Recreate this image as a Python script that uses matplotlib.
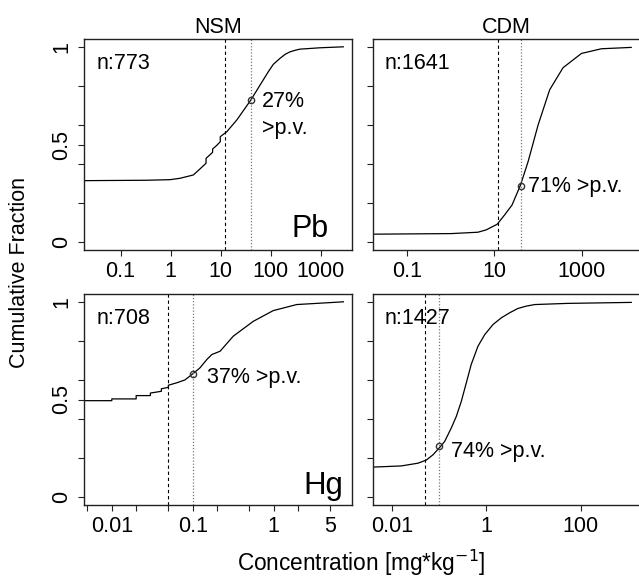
import matplotlib
matplotlib.use('Agg')
import matplotlib.pyplot as plt
from matplotlib.ticker import FixedLocator, NullLocator, FixedFormatter

plt.rcParams['font.family'] = ['Liberation Sans', 'DejaVu Sans']

# ---------------- data ----------------
columns = ["NSM", "CDM"]
elements = ["Pb", "Hg"]
n_samples = {"Pb_NSM": 773, "Pb_CDM": 1641, "Hg_NSM": 708, "Hg_CDM": 1427}

# cumulative curves: concentration [mg/kg] and cumulative fraction
pb_nsm_x = [0.0195, 0.33, 0.98, 1.54, 2.84, 3.86, 5.1, 5.1, 6.9, 6.9, 8.3, 9.8, 9.8,
            13.2, 20.9, 39.8, 61, 89, 112, 151, 192, 240, 304, 380, 955, 2800]
pb_nsm_f = [0.315, 0.317, 0.32, 0.327, 0.344, 0.375, 0.404, 0.429, 0.46, 0.477, 0.495,
            0.514, 0.54, 0.565, 0.625, 0.727, 0.804, 0.872, 0.91, 0.94, 0.961, 0.974,
            0.982, 0.988, 0.995, 1.0]

pb_cdm_x = [0.0167, 1.03, 4.2, 6.5, 11.6, 17.2, 25.3, 39.2, 59, 100, 184, 372, 980, 2800, 13500]
pb_cdm_f = [0.041, 0.044, 0.051, 0.063, 0.092, 0.14, 0.19, 0.29, 0.412, 0.6, 0.78, 0.893,
            0.966, 0.99, 0.997]

hg_nsm_x = [0.0047, 0.01, 0.01, 0.02, 0.02, 0.03, 0.03, 0.041, 0.041, 0.05, 0.05, 0.063,
            0.08, 0.1, 0.123, 0.149, 0.172, 0.218, 0.317, 0.56, 0.99, 1.93, 7.3]
hg_nsm_f = [0.494, 0.494, 0.503, 0.503, 0.52, 0.52, 0.533, 0.542, 0.555, 0.562, 0.573,
            0.585, 0.60, 0.631, 0.662, 0.704, 0.73, 0.747, 0.824, 0.90, 0.955, 0.986, 1.0]

hg_cdm_x = [0.004, 0.0158, 0.0357, 0.0535, 0.0743, 0.103, 0.131, 0.181, 0.232, 0.295,
            0.377, 0.48, 0.667, 0.925, 1.39, 2.08, 3.13, 4.68, 7.05, 10.6, 53.7, 1180]
hg_cdm_f = [0.154, 0.16, 0.174, 0.19, 0.217, 0.255, 0.285, 0.354, 0.414, 0.49,
            0.585, 0.68, 0.773, 0.832, 0.884, 0.918, 0.944, 0.966, 0.978, 0.986, 0.992, 0.997]

# reference values: dashed line (background) and dotted line (precautionary value)
background = {"Pb": 12, "Hg": 0.05}
precaution = {"Pb": 40, "Hg": 0.1}
pct_above = {"Pb_NSM": 27, "Pb_CDM": 71, "Hg_NSM": 37, "Hg_CDM": 74}

# tick positions / labels
pb_nsm_ticks = [0.1, 1, 10, 100, 1000]
pb_nsm_labels = ["0.1", "1", "10", "100", "1000"]
pb_cdm_ticks = [0.1, 10, 1000]
pb_cdm_labels = ["0.1", "10", "1000"]
hg_nsm_ticks = [0.005, 0.01, 0.02, 0.05, 0.1, 0.2, 0.5, 1, 2, 5]
hg_nsm_labels = ["", "0.01", "", "", "0.1", "", "", "1", "", "5"]
hg_cdm_ticks = [0.01, 1, 100]
hg_cdm_labels = ["0.01", "1", "100"]

# ---------------- figure ----------------
W, H = 639, 579
fig = plt.figure(figsize=(W / 100, H / 100), dpi=100)
FS = 15.5


def px_axes(x0, y0, x1, y1):
    return fig.add_axes([x0 / W, 1 - y1 / H, (x1 - x0) / W, (y1 - y0) / H])


panels = [
    dict(key="Pb_NSM", el="Pb", x=pb_nsm_x, f=pb_nsm_f, ticks=pb_nsm_ticks, labels=pb_nsm_labels,
         box=(84.3, 39, 352.3, 250), xlim=(10 ** -1.7226, 10 ** 3.627), left=True,
         off1=(11, -7), two_line=True),
    dict(key="Pb_CDM", el="Pb", x=pb_cdm_x, f=pb_cdm_f, ticks=pb_cdm_ticks, labels=pb_cdm_labels,
         box=(372.5, 39, 640.5, 250), xlim=(10 ** -1.789, 10 ** 4.343), left=False,
         off1=(7, -6), two_line=False),
    dict(key="Hg_NSM", el="Hg", x=hg_nsm_x, f=hg_nsm_f, ticks=hg_nsm_ticks, labels=hg_nsm_labels,
         box=(84.3, 294, 352.3, 505), xlim=(10 ** -2.340, 10 ** 0.973), left=True,
         off1=(14, -9), two_line=False),
    dict(key="Hg_CDM", el="Hg", x=hg_cdm_x, f=hg_cdm_f, ticks=hg_cdm_ticks, labels=hg_cdm_labels,
         box=(372.5, 294, 640.5, 505), xlim=(10 ** -2.411, 10 ** 3.267), left=False,
         off1=(11.6, -10.7), two_line=False),
]

for i, p in enumerate(panels):
    ax = px_axes(*p["box"])
    ax.set_xscale("log")
    ax.set_xlim(*p["xlim"])
    ax.set_ylim(-0.04, 1.04)
    for s in ax.spines.values():
        s.set_linewidth(1.0)
        s.set_color("#222222")

    ax.plot(p["x"], p["f"], color="black", lw=0.9, solid_joinstyle="round")
    el = p["el"]
    ax.axvline(background[el], color="black", lw=0.8, ls=(0, (3, 2.5)))
    ax.axvline(precaution[el], color="#777777", lw=0.9, ls=(0, (1, 1.5)))
    pct = pct_above[p["key"]]
    fy = 1 - pct / 100
    ax.plot([precaution[el]], [fy], marker="o", ms=4.5, mfc="none", mec="#333333", mew=1.0)
    if p["two_line"]:
        ax.annotate(f"{pct}%", xy=(precaution[el], fy), xytext=p["off1"],
                    textcoords="offset pixels", fontsize=FS, va="baseline", ha="left")
        ax.annotate(">p.v.", xy=(precaution[el], fy), xytext=(p["off1"][0], p["off1"][1] - 27),
                    textcoords="offset pixels", fontsize=FS, va="baseline", ha="left")
    else:
        ax.annotate(f"{pct}% >p.v.", xy=(precaution[el], fy), xytext=p["off1"],
                    textcoords="offset pixels", fontsize=FS, va="baseline", ha="left")

    ax.text(0.045, 0.857, f"n:{n_samples[p['key']]}", transform=ax.transAxes,
            fontsize=FS, va="baseline", ha="left")

    ax.xaxis.set_major_locator(FixedLocator(p["ticks"]))
    ax.xaxis.set_major_formatter(FixedFormatter(p["labels"]))
    ax.xaxis.set_minor_locator(NullLocator())
    if p["left"]:
        ax.yaxis.set_major_locator(FixedLocator([0, 0.2, 0.4, 0.5, 0.6, 0.8, 1]))
        ax.yaxis.set_major_formatter(FixedFormatter(["0", "", "", "0.5", "", "", "1"]))
    else:
        ax.yaxis.set_major_locator(FixedLocator([0, 0.2, 0.4, 0.6, 0.8, 1]))
        ax.yaxis.set_major_formatter(FixedFormatter([""] * 6))
    ax.tick_params(axis="both", direction="out", length=4.3, width=0.8, color="#222222",
                   labelsize=FS, pad=3.6)
    ax.tick_params(axis="y", pad=4.3)
    for lab in ax.get_yticklabels():
        lab.set_rotation(90)
        lab.set_va("center")

    if i == 0:
        ax.text(0.91, 0.063, "Pb", transform=ax.transAxes, fontsize=22, ha="right", va="baseline")
    if i == 2:
        ax.text(0.966, 0.052, "Hg", transform=ax.transAxes, fontsize=22.5, ha="right", va="baseline")
    if i < 2:
        ax.set_title(columns[i], fontsize=FS, pad=4.3)

fig.text(20 / W, 1 - 272 / H, "Cumulative Fraction", rotation=90, fontsize=FS,
         ha="center", va="center")
fig.text(361 / W, 1 - 571 / H, r"Concentration [mg*kg$^{-1}$]", fontsize=16.3,
         ha="center", va="baseline")

fig.savefig("out.png", dpi=100)
